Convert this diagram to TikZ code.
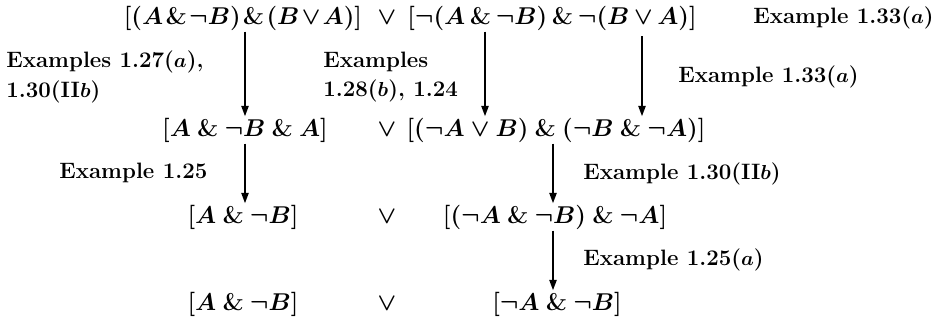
\documentclass[tikz,border=0pt]{standalone}
\usepackage{tikz}
\usetikzlibrary{arrows.meta}
\tikzstyle{formula} = [inner sep=1pt, font=\fontsize{20.5}{25}\selectfont\bfseries\boldmath]
\tikzstyle{rule} = [inner sep=1pt, anchor=west, align=left, font=\fontsize{19}{25}\selectfont\bfseries\boldmath]
\tikzstyle{arrow} = [line width=1.8pt, -{Triangle[length=9pt, width=6pt]}]

\begin{document}
\begin{tikzpicture}[x=0.03cm, y=-0.03cm]
    \useasboundingbox (0,0) rectangle (937,320);

    % row 1
    \node (r1a) [formula] at (243,18) {$\medmuskip=1.5mu [(A \mathbin{\&} \neg B) \mathbin{\&} (B \vee A)]$};
    \node (r1v) [formula] at (387,18) {$\vee$};
    \node (r1b) [formula] at (552,18) {$\medmuskip=3mu [\neg(A \mathbin{\&} \neg B) \mathbin{\&} \neg(B \vee A)]$};
    \node (r1e) [rule] at (752,18) {Example 1.33($a$)};

    % row 2
    \node (r2a) [formula] at (245,130) {$[A \mathbin{\&} \neg B \mathbin{\&} A]$};
    \node (r2v) [formula] at (387,130) {$\vee$};
    \node (r2b) [formula] at (556,130) {$[(\neg A \vee B) \mathbin{\&} (\neg B \mathbin{\&} \neg A)]$};

    % row 3
    \node (r3a) [formula] at (243,217) {$[A \mathbin{\&} \neg B]$};
    \node (r3v) [formula] at (387,217) {$\vee$};
    \node (r3b) [formula] at (555,217) {$[(\neg A \mathbin{\&} \neg B) \mathbin{\&} \neg A]$};

    % row 4
    \node (r4a) [formula] at (243,304) {$[A \mathbin{\&} \neg B]$};
    \node (r4v) [formula] at (387,304) {$\vee$};
    \node (r4b) [formula] at (557,304) {$[\neg A \mathbin{\&} \neg B]$};

    % rule labels
    \node (l1) [rule] at (5,77) {Examples 1.27($a$),\\1.30(II$b$)};
    \node (l2) [rule] at (322,77) {Examples\\1.28($b$), 1.24};
    \node (l3) [rule] at (677,77) {Example 1.33($a$)};
    \node (l4) [rule] at (58,173) {Example 1.25};
    \node (l5) [rule] at (582,174) {Example 1.30(II$b$)};
    \node (l6) [rule] at (582,260) {Example 1.25($a$)};

    \coordinate (ca) at (245,0);
    \coordinate (cb) at (485,0);
    \coordinate (cc) at (642,0);
    \coordinate (cd) at (553,0);

    \draw [arrow] (r1a.south -| ca) -- (r2a.north -| ca);
    \draw [arrow] (r1b.south -| cb) -- (r2b.north -| cb);
    \draw [arrow] ([yshift=-4pt]r1b.south -| cc) -- (r2b.north -| cc);
    \draw [arrow] (r2a.south -| ca) -- (r3a.north -| ca);
    \draw [arrow] (r2b.south -| cd) -- (r3b.north -| cd);
    \draw [arrow] (r3b.south -| cd) -- (r4b.north -| cd);

\end{tikzpicture}
\end{document}
